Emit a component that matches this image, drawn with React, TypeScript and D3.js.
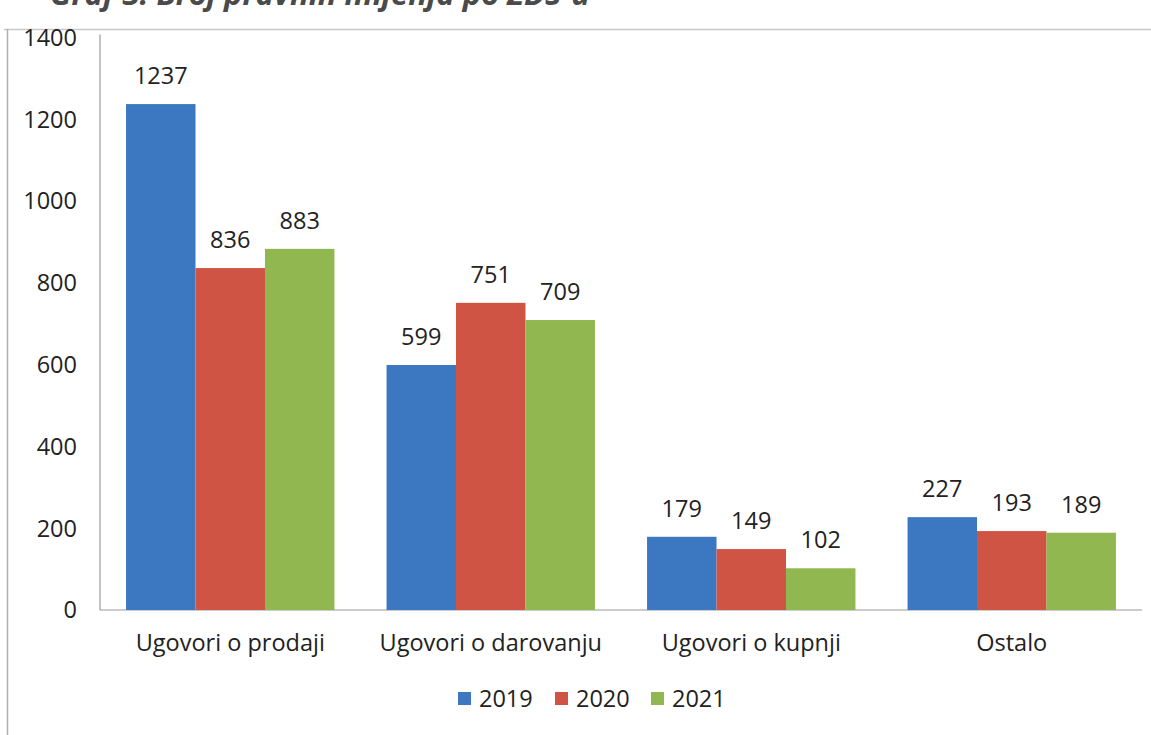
import React from "react";
import * as d3 from "d3";

const categories = ["Ugovori o prodaji", "Ugovori o darovanju", "Ugovori o kupnji", "Ostalo"];
const seriesNames = ["2019", "2020", "2021"];
const values2019 = [1237, 599, 179, 227];
const values2020 = [836, 751, 149, 193];
const values2021 = [883, 709, 102, 189];
const yTicks = [0, 200, 400, 600, 800, 1000, 1200, 1400];
const colors = ["#3C77C2", "#CF5443", "#91B850"];
const titleText = "Graf 3: Broj pravnih mijenja po ZDS-u";

export default function App() {
  const W = 1151, H = 735;
  const left = 100, right = 1142, top = 37.4, bottom = 610;
  const series = [values2019, values2020, values2021];
  const y = d3.scaleLinear().domain([0, 1400]).range([bottom, top]);
  const x0 = d3.scaleBand<string>().domain(categories).range([left, right]).paddingInner(0.2).paddingOuter(0.1);
  const x1 = d3.scaleBand<string>().domain(seriesNames).range([0, x0.bandwidth()]);
  const font = "'Open Sans', sans-serif";
  const fs = 23.5;
  const legendItems = [
    { x: 458, label: seriesNames[0], c: colors[0] },
    { x: 555, label: seriesNames[1], c: colors[1] },
    { x: 651, label: seriesNames[2], c: colors[2] },
  ];
  return (
    <svg width={W} height={H} style={{ position: "absolute", left: 0, top: 0, background: "#fff" }} fontFamily={font}>
      <text x={50} y={5} fontSize={31} fontStyle="italic" fontWeight="bold" fill="#4a4a4a">{titleText}</text>
      {/* frame */}
      <line x1={4} x2={W} y1={29.5} y2={29.5} stroke="#c8c8c8" strokeWidth={1.5} />
      <line x1={7.5} x2={7.5} y1={29} y2={H} stroke="#b0b0b0" strokeWidth={1.5} />
      {/* axes */}
      <line x1={left} x2={left} y1={top - 3} y2={bottom} stroke="#999" strokeWidth={1.2} />
      <line x1={left} x2={right} y1={bottom} y2={bottom} stroke="#999" strokeWidth={1.2} />
      {yTicks.map((t) => (
        <text key={t} x={77} y={y(t)} dy="0.36em" textAnchor="end" fontSize={fs} fill="#222">{t}</text>
      ))}
      {categories.map((cat, i) => (
        <g key={cat} transform={`translate(${x0(cat)},0)`}>
          {seriesNames.map((s, j) => {
            const v = series[j][i];
            const bx = x1(s)!;
            return (
              <g key={s}>
                <rect x={bx} y={y(v)} width={x1.bandwidth()} height={bottom - y(v)} fill={colors[j]} />
                <text x={bx + x1.bandwidth() / 2} y={y(v) - 20} textAnchor="middle" fontSize={fs} fill="#222">{v}</text>
              </g>
            );
          })}
          <text x={x0.bandwidth() / 2} y={651} textAnchor="middle" fontSize={fs} fill="#222">{cat}</text>
        </g>
      ))}
      {legendItems.map((l) => (
        <g key={l.label}>
          <rect x={l.x} y={692} width={13} height={13} fill={l.c} />
          <text x={l.x + 21} y={699} dy="0.36em" fontSize={fs} fill="#222">{l.label}</text>
        </g>
      ))}
    </svg>
  );
}
